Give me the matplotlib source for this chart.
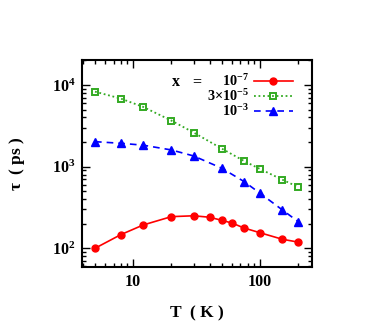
import matplotlib
matplotlib.use("Agg")
import matplotlib.pyplot as plt
from matplotlib.lines import Line2D
from matplotlib.ticker import FixedLocator, NullFormatter, LogLocator

plt.rcParams['font.family'] = ['Liberation Serif', 'DejaVu Serif']
plt.rcParams['font.weight'] = 'bold'
plt.rcParams['mathtext.fontset'] = 'custom'
plt.rcParams['mathtext.rm'] = 'Liberation Serif:bold'
plt.rcParams['mathtext.bf'] = 'Liberation Serif:bold'
plt.rcParams['mathtext.it'] = 'Liberation Serif:bold'

T_red = [5, 8, 12, 20, 30, 40, 50, 60, 75, 100, 150, 200]
tau_red = [100, 147, 193, 244, 250, 240, 220, 204, 177, 155, 129, 119]
T_green = [5, 8, 12, 20, 30, 50, 75, 100, 150, 200]
tau_green = [8280, 6800, 5380, 3660, 2610, 1660, 1170, 935, 692, 562]
T_blue = [5, 8, 12, 20, 30, 50, 75, 100, 150, 200]
tau_blue = [2020, 1930, 1830, 1600, 1350, 955, 655, 472, 295, 212]
labels = [r'$\mathbf{10^{-7}}$', r'$\mathbf{3{\times}10^{-5}}$', r'$\mathbf{10^{-3}}$']
xticks = [10, 100]
xticklabels = ['10', '100']
yticks = [100, 1000, 10000]
yticklabels = [r'$\mathbf{10^{2}}$', r'$\mathbf{10^{3}}$', r'$\mathbf{10^{4}}$']

W, H = 390, 327
fig = plt.figure(figsize=(3.9, 3.27), dpi=100)
ax = fig.add_axes([82/W, 1 - 267/H, 230/W, 207/H])
ax.set_xscale('log')
ax.set_yscale('log')
ax.set_xlim(3.95, 257)
ax.set_ylim(59, 20200)

styles = [
    dict(color='#ff0000', lw=1.2, ls='-', marker='o', ms=5.0, mec='#ff0000', mfc='#ff0000'),
    dict(color='#33aa22', lw=1.3, ls=(0, (1, 1.5)), marker='s', ms=5.0, mec='#33aa22', mfc='none', mew=1.4),
    dict(color='#0000ff', lw=1.2, ls=(0, (4, 3)), marker='^', ms=6.0, mec='#0000ff', mfc='#0000ff'),
]
ax.plot(T_red, tau_red, **styles[0])
ax.plot(T_green, tau_green, **styles[1])
ax.plot(T_blue, tau_blue, **styles[2])

ax.xaxis.set_major_locator(FixedLocator(xticks))
ax.set_xticklabels(xticklabels)
ax.yaxis.set_major_locator(FixedLocator(yticks))
ax.set_yticklabels(yticklabels)
ax.xaxis.set_minor_locator(LogLocator(base=10, subs=range(2, 10)))
ax.yaxis.set_minor_locator(LogLocator(base=10, subs=range(2, 10)))
ax.xaxis.set_minor_formatter(NullFormatter())
ax.yaxis.set_minor_formatter(NullFormatter())
ax.tick_params(which='both', direction='in', top=True, right=True, width=1.0, labelsize=11.5, pad=5)
ax.tick_params(which='major', length=6)
ax.tick_params(which='minor', length=3)
for s in ax.spines.values():
    s.set_linewidth(1.5)

ax.set_xlabel('T  ( K )', fontsize=12.5, fontweight='bold', labelpad=11)
ax.set_ylabel(r'$\mathbf{\tau}$  ( ps )', fontsize=12.5, fontweight='bold', labelpad=18)

# manual legend (figure pixel coordinates)
rows_y = [81, 96, 111]
for lab, st, yy in zip(labels, styles, rows_y):
    fy = 1 - yy / H
    fig.text(249/W, fy, lab, fontsize=10.3, ha='right', va='center')
    st_line = {k: v for k, v in st.items() if k not in ('marker', 'ms', 'mec', 'mfc', 'mew')}
    fig.add_artist(Line2D([254/W, 293/W], [fy, fy], transform=fig.transFigure, **st_line))
    fig.add_artist(Line2D([273/W], [fy], transform=fig.transFigure, ls='none',
                          marker=st['marker'], ms=st['ms'], mec=st['mec'], mfc=st['mfc'],
                          mew=st.get('mew', 1.0)))
fig.text(176/W, 1 - 82/H, 'x', fontsize=11.5, ha='center', va='center')
fig.text(197/W, 1 - 82/H, '=', fontsize=11.5, ha='center', va='center')

fig.savefig('out.png', dpi=100)
